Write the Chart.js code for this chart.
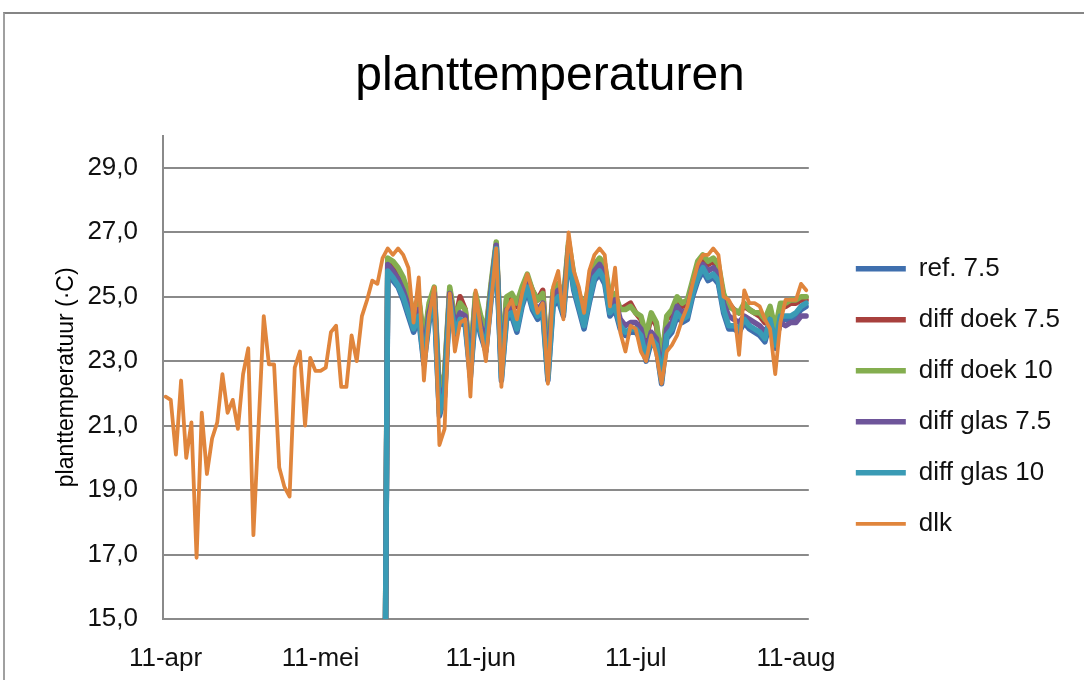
<!DOCTYPE html>
<html>
<head>
<meta charset="utf-8">
<title>planttemperaturen</title>
<script src="https://cdn.jsdelivr.net/npm/chart.js@4.4.0/dist/chart.umd.min.js"></script>
<style>
  html, body { margin: 0; padding: 0; background: #fff; overflow: hidden; }
  #frame { position: absolute; left: 3px; top: 12px; width: 1081px; height: 668px; box-sizing: border-box;
           border-top: 2px solid #858585; border-left: 2px solid #a0a0a0; }
  #wrap { position: absolute; left: 0; top: 0; width: 1084px; height: 680px; }
</style>
</head>
<body>
<div id="frame"></div>
<div id="wrap"><canvas id="chart"></canvas></div>
<script>
const chartTitle = 'planttemperaturen';
const yAxisTitle = 'planttemperatuur (·C)';

// day 0 = 11-apr, one point per day
const xTickDays = [0, 30, 61, 91, 122];
const xTickLabels = ['11-apr', '11-mei', '11-jun', '11-jul', '11-aug'];
const yTicks = [15, 17, 19, 21, 23, 25, 27, 29];

const seriesNames = ['ref. 7.5', 'diff doek 7.5', 'diff doek 10', 'diff glas 7.5', 'diff glas 10', 'dlk'];
const seriesColors = ['#3F6FAE', '#A8403D', '#84AE4F', '#6E559A', '#3A9BB5', '#E0853C'];

const dlk = [
  21.9, 21.8, 20.1, 22.4, 20.0, 21.1, 16.9, 21.4, 19.5, 20.6,
  21.1, 22.6, 21.4, 21.8, 20.9, 22.6, 23.4, 17.6, 21.0, 24.4,
  22.9, 22.9, 19.7, 19.1, 18.8, 22.8, 23.3, 21.0, 23.1, 22.7,
  22.7, 22.8, 23.9, 24.1, 22.2, 22.2, 23.8, 23.0, 24.4, 24.9,
  25.5, 25.4, 26.2, 26.5, 26.3, 26.5, 26.3, 25.9, 24.2, 25.6,
  22.4, 24.4, 25.3, 20.4, 20.9, 25.1, 23.3, 24.2, 24.3, 21.9,
  25.2, 24.0, 23.0, 24.8, 26.5, 22.2, 24.6, 24.9, 24.3, 25.1,
  25.7, 25.2, 24.5, 24.8, 22.3, 25.3, 25.8, 24.3, 27.0, 25.8,
  25.3, 24.5, 25.8, 26.3, 26.5, 26.3, 24.7, 25.9, 23.9, 23.3,
  24.1, 24.0, 23.3, 23.0, 23.8, 23.2, 22.3, 23.3, 23.5, 23.8,
  24.3, 24.7, 25.4, 26.0, 26.3, 26.3, 26.5, 26.3, 25.0, 24.9,
  24.6, 23.2, 25.2, 24.8, 24.8, 24.7, 24.3, 24.0, 22.6, 24.2,
  24.9, 24.9, 24.9, 25.4, 25.2
];

// the treatment series start at day 42 (first cell is 0 in the sheet)
const firstDay = 42;
const ref75 = [
  0, 25.7, 25.5, 25.3, 24.9, 24.4, 23.9, 24.3, 22.9, 24.2,
  24.8, 21.3, 21.9, 24.8, 23.8, 24.2, 24.1, 22.5, 24.5, 23.8,
  23.3, 24.9, 26.4, 22.4, 24.3, 24.4, 23.9, 24.7, 25.2, 24.6,
  24.3, 24.5, 22.4, 24.7, 24.9, 24.4, 26.3, 25.2, 24.6, 24.0,
  24.8, 25.5, 25.7, 25.4, 24.4, 24.6, 24.0, 23.8, 23.9, 23.9,
  23.7, 23.0, 23.6, 23.4, 22.3, 23.7, 23.9, 24.4, 24.2, 24.3,
  25.0, 25.5, 25.8, 25.5, 25.6, 25.4, 24.5, 24.0, 24.0, 23.9,
  24.2, 24.0, 23.9, 23.8, 23.6, 24.2, 23.4, 24.3, 24.3, 24.3,
  24.4, 24.6, 24.7
];
const doek75 = [
  0, 26.1, 26.0, 25.8, 25.5, 25.0, 24.4, 24.9, 23.5, 24.7,
  25.2, 21.9, 22.5, 25.2, 24.2, 25.0, 24.6, 23.0, 25.0, 24.3,
  23.8, 25.3, 26.6, 22.9, 24.9, 25.0, 24.7, 25.2, 25.6, 25.2,
  24.9, 25.2, 22.9, 25.1, 25.4, 24.8, 26.6, 25.6, 25.0, 24.5,
  25.3, 25.9, 26.1, 25.9, 24.9, 25.0, 24.6, 24.7, 24.8, 24.5,
  24.3, 23.7, 24.4, 24.1, 22.9, 24.3, 24.5, 24.9, 24.7, 24.8,
  25.4, 26.0, 26.2, 26.0, 26.1, 25.9, 25.0, 24.8, 24.6, 24.5,
  24.7, 24.6, 24.5, 24.4, 24.2, 24.6, 23.9, 24.7, 24.7, 24.8,
  24.8, 24.9, 24.9
];
const doek10 = [
  0, 26.2, 26.1, 25.9, 25.6, 25.1, 24.5, 25.0, 23.6, 24.8,
  25.3, 22.0, 22.6, 25.3, 24.3, 24.8, 24.6, 23.1, 25.1, 24.4,
  23.9, 25.4, 26.7, 23.0, 25.0, 25.1, 24.8, 25.3, 25.7, 25.2,
  24.9, 25.1, 23.0, 25.2, 25.4, 24.9, 26.7, 25.7, 25.1, 24.6,
  25.4, 26.0, 26.2, 26.0, 25.0, 25.1, 24.6, 24.6, 24.7, 24.5,
  24.4, 23.8, 24.5, 24.2, 23.0, 24.4, 24.6, 25.0, 24.8, 24.9,
  25.5, 26.1, 26.3, 26.1, 26.2, 26.0, 25.1, 24.7, 24.6, 24.5,
  24.8, 24.6, 24.5, 24.5, 24.3, 24.7, 24.0, 24.8, 24.8, 24.9,
  24.9, 25.0, 25.0
];
const glas75 = [
  0, 26.0, 25.8, 25.55, 25.2, 24.7, 24.2, 24.6, 23.2, 24.5,
  25.1, 21.6, 22.2, 25.1, 24.1, 24.5, 24.4, 22.8, 24.8, 24.1,
  23.6, 25.2, 26.6, 22.7, 24.6, 24.7, 24.2, 25.0, 25.5, 24.9,
  24.6, 24.8, 22.7, 25.0, 25.2, 24.7, 26.5, 25.5, 24.9, 24.3,
  25.1, 25.8, 26.0, 25.7, 24.7, 24.9, 24.3, 24.1, 24.2, 24.2,
  24.0, 23.3, 23.9, 23.7, 22.6, 24.0, 24.2, 24.7, 24.5, 24.6,
  25.3, 25.8, 26.0, 25.8, 25.9, 25.7, 24.8, 24.4, 24.3, 24.2,
  24.4, 24.3, 24.2, 24.1, 23.9, 24.2, 23.6, 24.2, 24.1, 24.2,
  24.2, 24.4, 24.4
];
const glas10 = [
  0, 25.8, 25.6, 25.35, 25.0, 24.5, 24.0, 24.4, 23.0, 24.3,
  24.9, 21.4, 22.0, 24.9, 23.9, 24.3, 24.2, 22.6, 24.6, 23.9,
  23.4, 25.0, 26.5, 22.5, 24.4, 24.5, 24.0, 24.8, 25.3, 24.7,
  24.4, 24.6, 22.5, 24.8, 25.0, 24.5, 26.4, 25.3, 24.7, 24.1,
  24.9, 25.6, 25.8, 25.5, 24.5, 24.7, 24.1, 23.9, 24.0, 24.0,
  23.8, 23.1, 23.7, 23.5, 22.4, 23.8, 24.0, 24.5, 24.3, 24.4,
  25.1, 25.6, 25.9, 25.6, 25.7, 25.5, 24.6, 24.1, 24.1, 24.0,
  24.3, 24.1, 24.0, 23.9, 23.7, 24.3, 23.5, 24.4, 24.4, 24.4,
  24.5, 24.7, 24.8
];

const allSeries = [ref75, doek75, doek10, glas75, glas10, dlk];
const startDays = [firstDay, firstDay, firstDay, firstDay, firstDay, 0];
const widths = [5.5, 5.5, 5.5, 5.5, 5.5, 3.8];
// first dataset is drawn on top in Chart.js, so order puts dlk on top, then glas 10 ...
const drawOrder = [5, 4, 3, 2, 1, 0];

Chart.defaults.font.family = '"Liberation Sans", Arial, sans-serif';
Chart.defaults.color = '#111';

const datasets = allSeries.map((vals, s) => ({
  label: seriesNames[s],
  data: vals.map((v, i) => ({ x: startDays[s] + i, y: v })),
  borderColor: seriesColors[s],
  backgroundColor: seriesColors[s],
  borderWidth: widths[s],
  borderCapStyle: 'round',
  borderJoinStyle: 'round',
  pointRadius: 0,
  tension: 0,
  order: drawOrder[s]
}));

new Chart(document.getElementById('chart'), {
  type: 'line',
  data: { datasets },
  options: {
    responsive: true,
    maintainAspectRatio: false,
    animation: false,
    layout: { padding: { left: 30, right: 14, top: 0, bottom: 0 } },
    plugins: {
      tooltip: { enabled: false },
      title: {
        display: true,
        text: chartTitle,
        color: '#000',
        font: { size: 48, weight: 'normal' },
        padding: { top: 48, bottom: 30 }
      },
      legend: {
        position: 'right',
        fullSize: false,
        maxWidth: 320,
        title: { display: true, text: ' ', font: { size: 10 }, padding: 13 },
        labels: {
          usePointStyle: true,
          pointStyle: 'line',
          pointStyleWidth: 50,
          font: { size: 26 },
          color: '#111',
          padding: 25,
          sort: (a, b) => a.datasetIndex - b.datasetIndex
        }
      }
    },
    scales: {
      x: {
        type: 'linear',
        min: -0.5,
        max: 124.5,
        afterBuildTicks: s => { s.ticks = xTickDays.map(v => ({ value: v })); },
        afterFit: s => { s.height = 61; },
        ticks: {
          autoSkip: false,
          maxRotation: 0,
          padding: 24,
          font: { size: 26 },
          color: '#111',
          callback: v => xTickLabels[xTickDays.indexOf(v)]
        },
        grid: { display: false, drawTicks: false },
        border: { display: false }
      },
      y: {
        min: 15,
        max: 30,
        afterBuildTicks: s => { s.ticks = yTicks.map(v => ({ value: v })); },
        afterFit: s => { s.width = 133; },
        ticks: {
          padding: 25,
          font: { size: 26 },
          color: '#111',
          callback: v => v.toFixed(1).replace('.', ',')
        },
        grid: { color: '#8a8a8a', lineWidth: 2, drawTicks: false },
        border: { display: true, color: '#8a8a8a', width: 2 },
        title: {
          display: true,
          text: yAxisTitle,
          color: '#000',
          font: { size: 23 },
          padding: { top: 23, bottom: 0 }
        }
      },
      gap: {
        type: 'linear',
        position: 'right',
        display: true,
        afterFit: s => { s.width = 22; },
        ticks: { display: false },
        grid: { display: false, drawTicks: false },
        border: { display: false }
      }
    }
  }
});
</script>
</body>
</html>
